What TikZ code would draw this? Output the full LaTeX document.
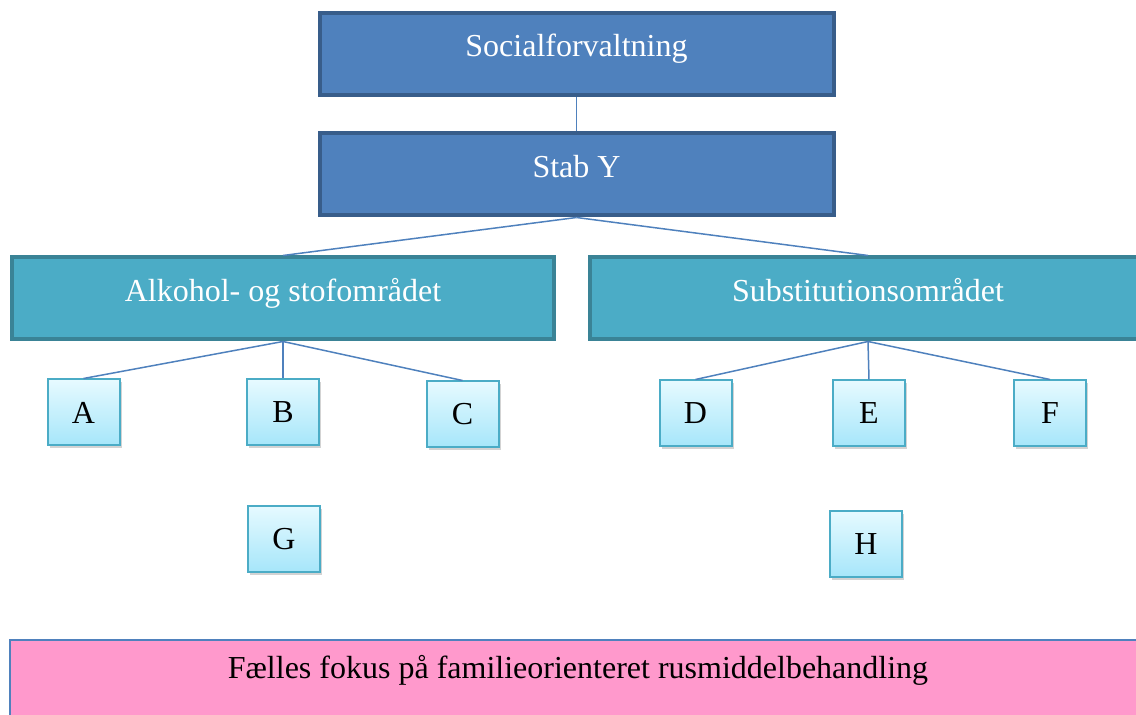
\documentclass[tikz,border=0pt]{standalone}
\usepackage{fontspec}
\setmainfont{Liberation Serif}
\usetikzlibrary{shadows}
\definecolor{headfill}{HTML}{4F81BD}
\definecolor{headline}{HTML}{385D8A}
\definecolor{areafill}{HTML}{4BACC6}
\definecolor{arealine}{HTML}{3A8396}
\definecolor{unittop}{HTML}{E6FAFF}
\definecolor{unitbot}{HTML}{A6E6FA}
\definecolor{focusfill}{HTML}{FF99CC}

\begin{document}
\begin{tikzpicture}[x=0.5pt,y=-0.5pt,
    boxfont/.style={font=\fontsize{16}{19}\selectfont},
    headbox/.style={boxfont, draw=headline, fill=headfill, line width=2pt, text=white,
      minimum width=257pt, minimum height=41pt, text height=11pt, text depth=8pt},
    areabox/.style={boxfont, draw=arealine, fill=areafill, line width=2pt, text=white,
      minimum height=41pt, text height=11pt, text depth=8pt},
    unitbox/.style={boxfont, draw=areafill, line width=1pt, top color=unittop, bottom color=unitbot,
      minimum width=36pt, minimum height=33pt,
      drop shadow={shadow xshift=1pt, shadow yshift=-1.5pt, opacity=0.35}},
    link/.style={draw=headfill, line width=0.75pt}]
  \useasboundingbox (0,0) rectangle (1136,715);
  % top of the organisation
  \node[headbox] (soc) at (576.5,54) {Socialforvaltning};
  \node[headbox] (stab) at (576.5,174.5) {Stab Y};
  % the two areas
  \node[areabox, minimum width=271pt] (alk) at (283,298.5) {Alkohol- og stofområdet};
  \node[areabox, minimum width=278pt] (sub) at (868,298.5) {Substitutionsområdet};
  % units
  \node[unitbox] (a) at (83.5,412.5) {A};
  \node[unitbox] (b) at (283,412.5) {B};
  \node[unitbox] (c) at (462.5,414.5) {C};
  \node[unitbox] (d) at (695.5,413.5) {D};
  \node[unitbox] (e) at (869,413.5) {E};
  \node[unitbox] (f) at (1050,413.5) {F};
  \node[unitbox] (g) at (284,539) {G};
  \node[unitbox] (h) at (866,544) {H};
  % common focus
  \node[boxfont, draw=headfill, fill=focusfill, line width=0.75pt, minimum width=568pt,
    minimum height=45pt, text height=11pt, text depth=17pt] (focus) at (578,685)
    {Fælles fokus på familieorienteret rusmiddelbehandling};
  % connectors
  \draw[link] (soc.south) -- (stab.north);
  \draw[link] (stab.south) -- (alk.north);
  \draw[link] (stab.south) -- (sub.north);
  \foreach \u in {a,b,c} \draw[link] (alk.south) -- (\u.north);
  \foreach \u in {d,e,f} \draw[link] (sub.south) -- (\u.north);
\end{tikzpicture}
\end{document}
